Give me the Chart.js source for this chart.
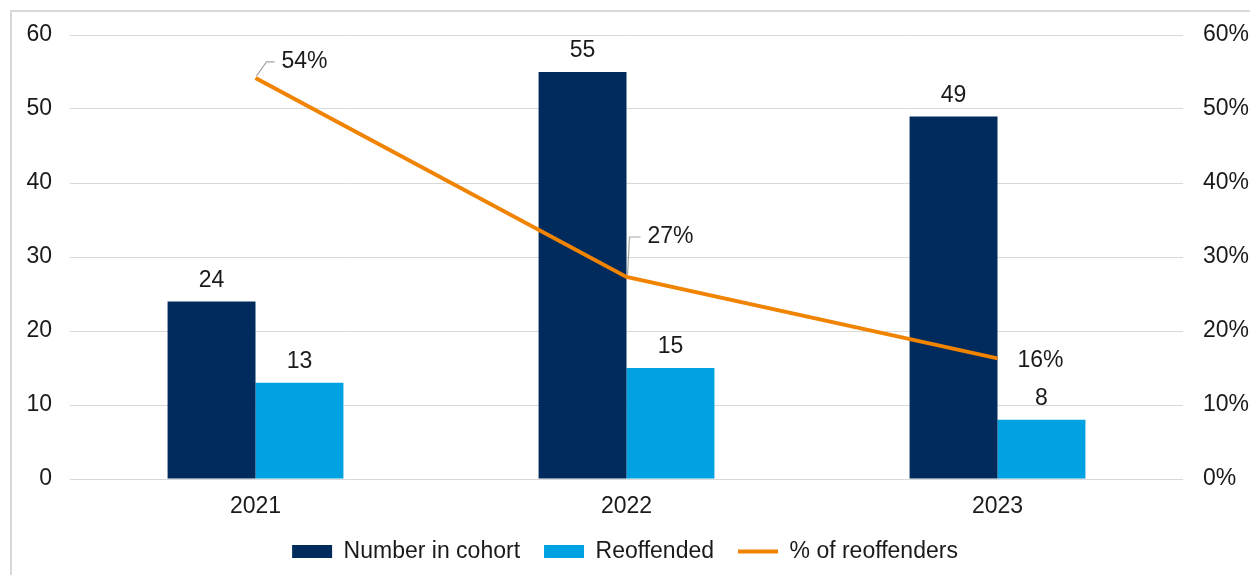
<!DOCTYPE html>
<html>
<head>
<meta charset="utf-8">
<script src="https://cdn.jsdelivr.net/npm/chart.js@4.4.1/dist/chart.umd.min.js"></script>
<style>
  html, body { margin: 0; padding: 0; background: #fff; }
  #frame { position: absolute; left: 10px; top: 10px; width: 1300px; height: 600px;
           border-left: 2px solid #d9d9d9; border-top: 2px solid #d9d9d9; }
  #wrap { position: absolute; left: 0; top: 0; width: 1250px; height: 575px; }
</style>
</head>
<body>
<div id="frame"></div>
<div id="wrap"><canvas id="cohortChart"></canvas></div>
<script>
const years = ["2021", "2022", "2023"];
const cohort = [24, 55, 49];
const reoffended = [13, 15, 8];
const reoffPct = [54.2, 27.3, 16.3];
const countTicks = [0, 10, 20, 30, 40, 50, 60];

const FONT = "'Liberation Sans', Arial, sans-serif";
const TEXT = "#1a1a1a";
const FS = 23;

// value labels above bars, and % labels next to the line (with small leader lines)
const valueLabels = {
  id: "valueLabels",
  afterDatasetsDraw(chart) {
    const ctx = chart.ctx;
    ctx.save();
    ctx.font = FS + "px " + FONT;
    ctx.fillStyle = TEXT;
    chart.data.datasets.forEach((ds, i) => {
      const meta = chart.getDatasetMeta(i);
      if (ds.type === "line") {
        meta.data.forEach((pt, j) => {
          const off = ds.labelOffsets[j];
          const tx = pt.x + off[0], ty = pt.y + off[1];
          if (off[2]) {
            ctx.strokeStyle = "#a6a6a6";
            ctx.lineWidth = 1.2;
            ctx.beginPath();
            ctx.moveTo(pt.x + 1, pt.y - 2);
            ctx.lineTo(tx - off[2], ty);
            ctx.lineTo(tx - 7, ty);
            ctx.stroke();
          }
          ctx.textAlign = "left";
          ctx.textBaseline = "middle";
          ctx.fillText(Math.round(ds.data[j]) + "%", tx, ty);
        });
      } else {
        meta.data.forEach((bar, j) => {
          ctx.textAlign = "center";
          ctx.textBaseline = "middle";
          ctx.fillText(ds.data[j], bar.x, bar.y - 21);
        });
      }
    });
    ctx.restore();
  }
};

new Chart(document.getElementById("cohortChart"), {
  type: "bar",
  data: {
    labels: years,
    datasets: [{
        label: "Number in cohort",
        data: cohort,
        backgroundColor: "#002b5c",
        pointStyle: "rect",
        order: 1,
        yAxisID: "y"
      }, {
        label: "Reoffended",
        data: reoffended,
        backgroundColor: "#00a2e1",
        pointStyle: "rect",
        order: 1,
        yAxisID: "y"
      }, {
        type: "line",
        label: "% of reoffenders",
        data: reoffPct,
        borderColor: "#f08300",
        backgroundColor: "#f08300",
        borderWidth: 4,
        pointRadius: 0,
        pointStyle: "line",
        tension: 0,
        order: 0,
        yAxisID: "y2",
        labelOffsets: [[26, -16, 15], [21, -40, 18], [20, 2, 0]]
      }
    ]
  },
  options: {
    responsive: true,
    maintainAspectRatio: false,
    animation: false,
    datasets: { bar: { categoryPercentage: 0.474, barPercentage: 1 } },
    layout: { padding: { top: 35, right: 0, left: 0, bottom: 2 } },
    scales: {
      x: {
        afterFit: (s) => { s.height = 37; },
        grid: { display: false, drawTicks: false },
        border: { display: false },
        ticks: { color: TEXT, font: { family: FONT, size: FS }, padding: 14 }
      },
      y: {
        position: "left",
        min: 0, max: 60,
        afterBuildTicks: (s) => { s.ticks = countTicks.map(v => ({ value: v })); },
        afterFit: (s) => { s.width = 70; },
        grid: { color: "#d9d9d9", lineWidth: 1, drawTicks: false },
        border: { display: false },
        ticks: { color: TEXT, font: { family: FONT, size: FS }, padding: 18 }
      },
      y2: {
        position: "right",
        min: 0, max: 60,
        afterFit: (s) => { s.width = 67; },
        grid: { display: false, drawTicks: false },
        border: { display: false },
        ticks: { stepSize: 10, color: TEXT, font: { family: FONT, size: FS }, padding: 20,
                 callback: (v) => v + "%" }
      }
    },
    plugins: {
      legend: {
        position: "bottom",
        labels: {
          usePointStyle: true,
          pointStyleWidth: 40,
          boxHeight: 13,
          padding: 24,
          color: TEXT,
          font: { family: FONT, size: FS },
          sort: (a, b) => a.datasetIndex - b.datasetIndex
        }
      },
      tooltip: { enabled: false },
      title: { display: false }
    }
  },
  plugins: [valueLabels]
});
</script>
</body>
</html>
